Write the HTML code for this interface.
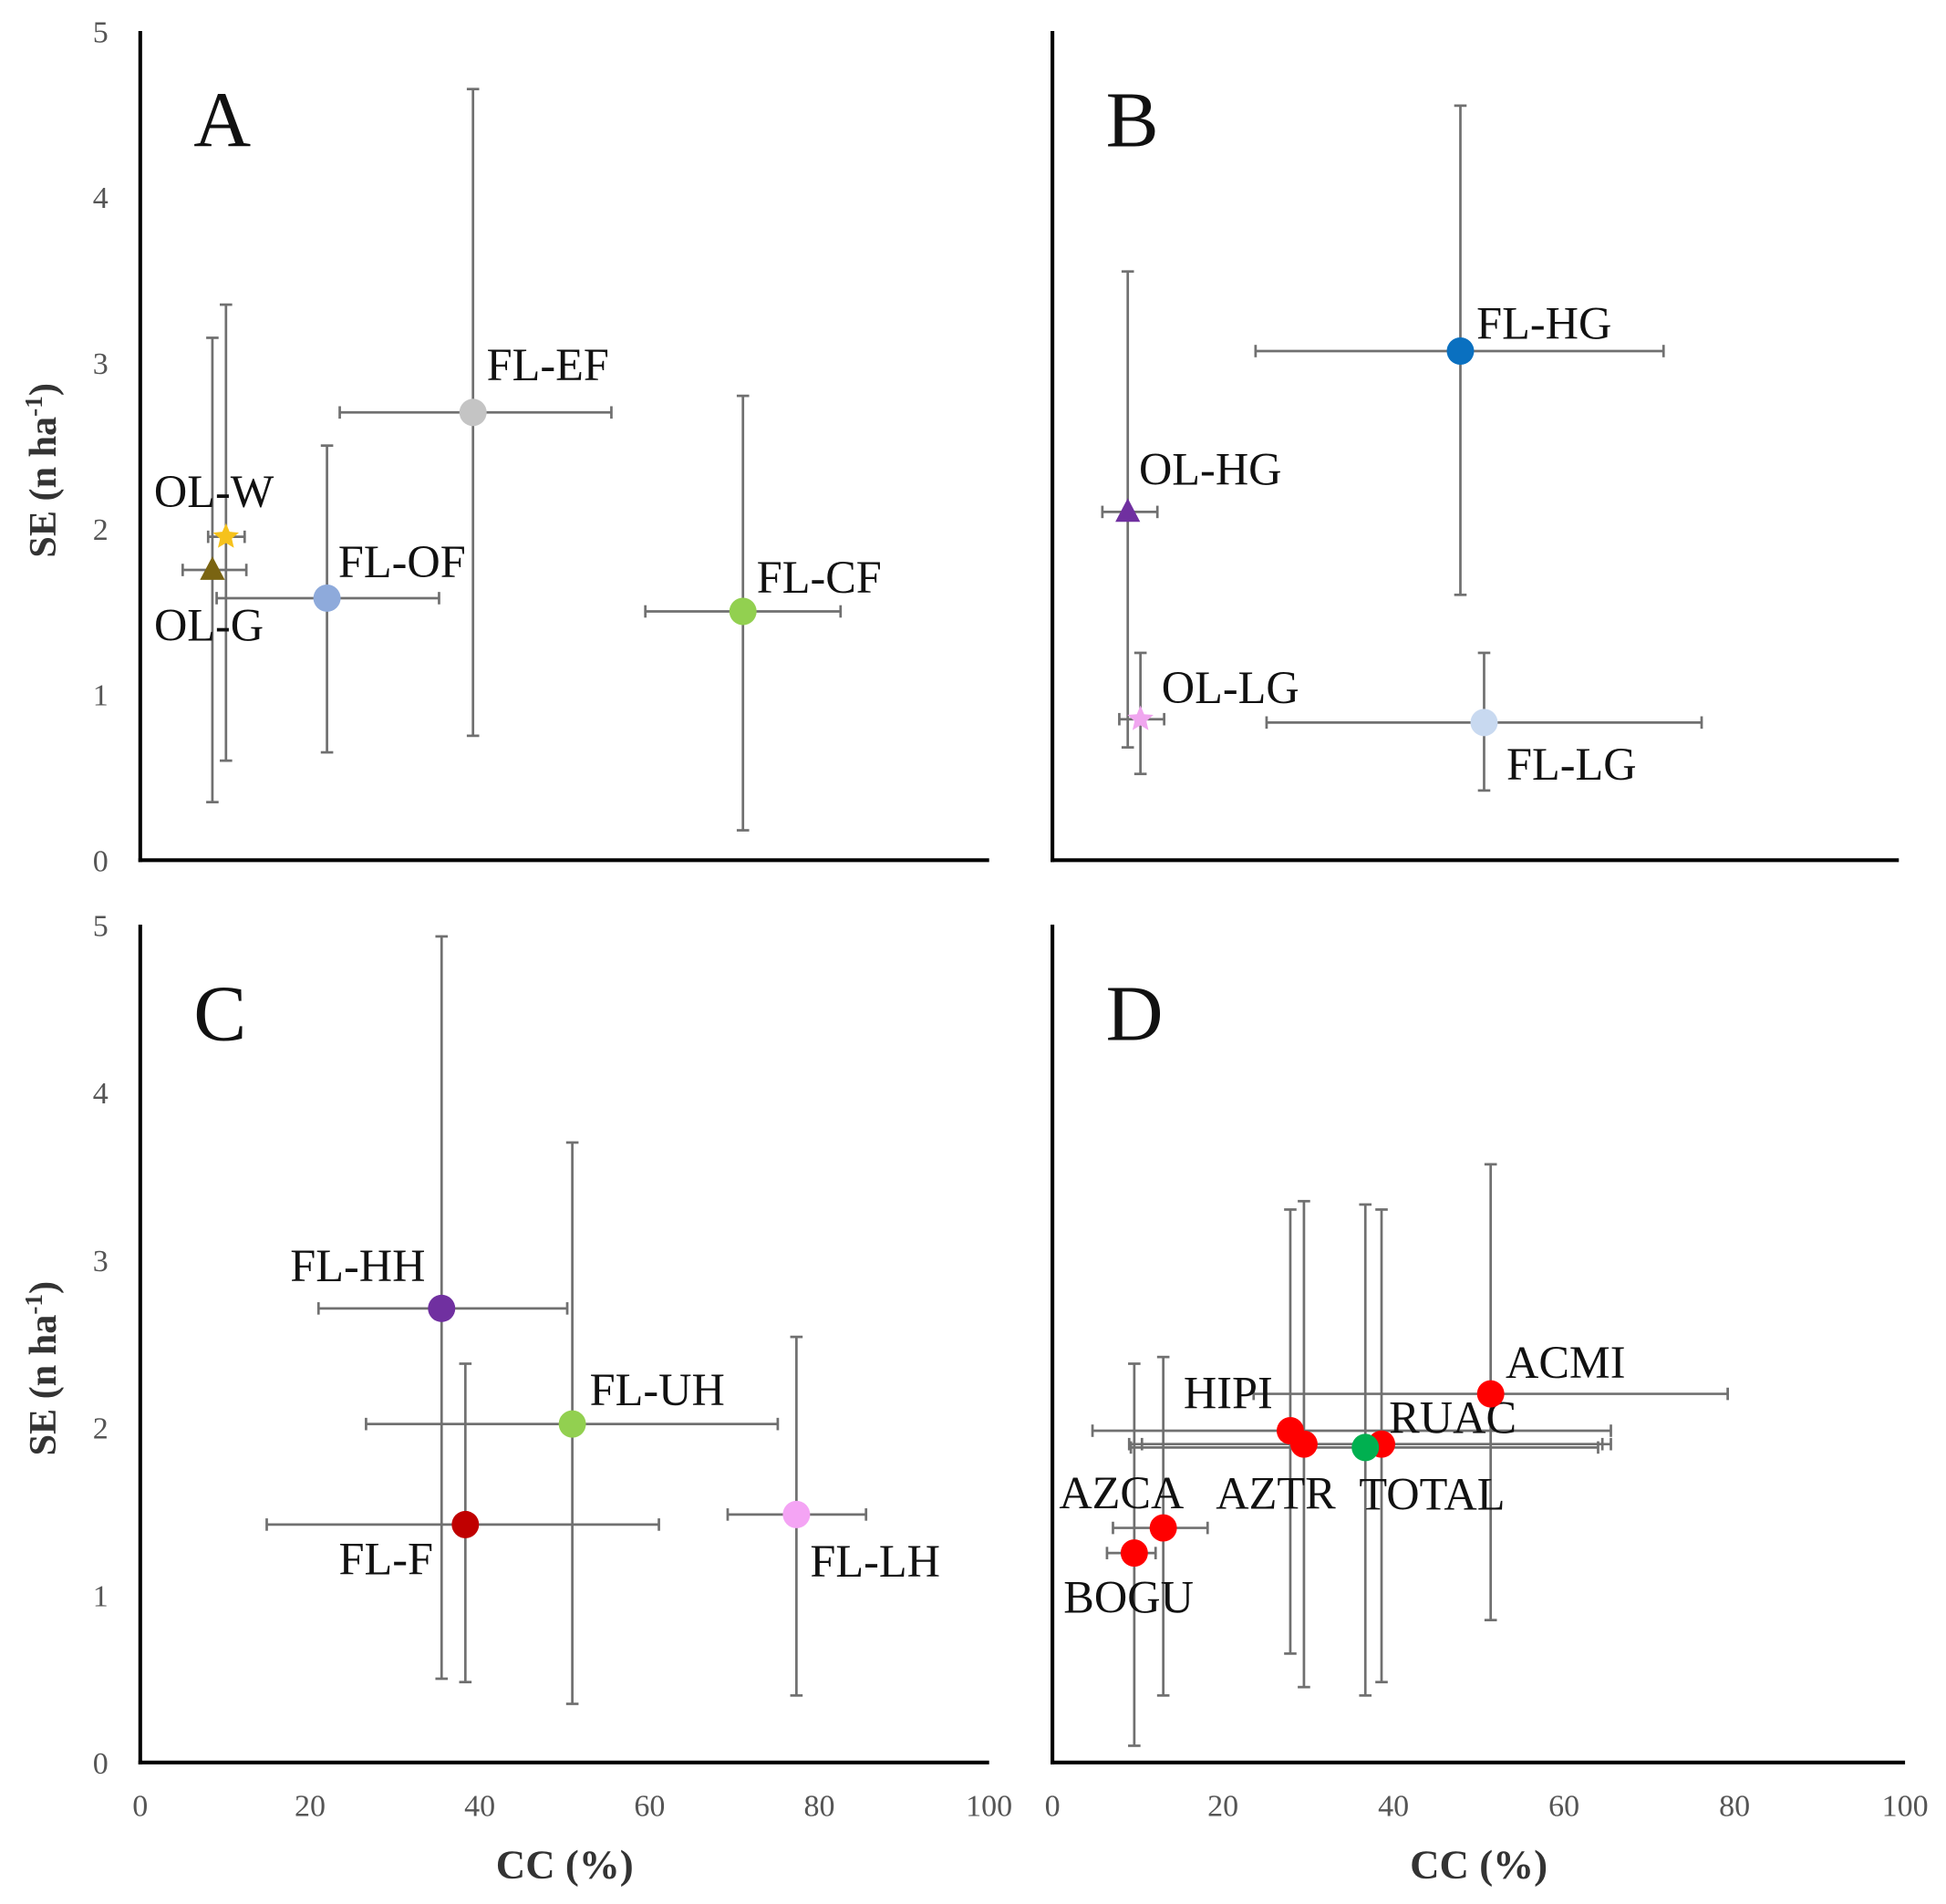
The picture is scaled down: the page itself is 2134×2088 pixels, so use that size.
<!DOCTYPE html>
<html><head><meta charset="utf-8">
<style>
html,body{margin:0;padding:0;background:#fff;}
svg{display:block;}
text{font-family:"Liberation Serif",serif;}
</style></head>
<body>
<svg id="chart" width="2134" height="2088" viewBox="0 0 1568 1534" preserveAspectRatio="none" xmlns="http://www.w3.org/2000/svg"></svg>
<script>
// Panel A data
const aNames=["OL-G","OL-W","FL-OF","FL-EF","FL-CF"];
const aX=[8.5,10.1,22,39.2,71];
const aY=[1.75,1.95,1.58,2.7,1.5];
const aXlo=[5,8,9,23.5,59.5];
const aXhi=[12.5,12.3,35.2,55.5,82.5];
const aYlo=[0.35,0.6,0.65,0.75,0.18];
const aYhi=[3.15,3.35,2.5,4.65,2.8];
// Panel B data
const bNames=["OL-HG","OL-LG","FL-HG","FL-LG"];
const bX=[8.9,10.4,48.2,51];
const bY=[2.1,0.85,3.07,0.83];
const bXlo=[5.9,7.9,24,25.3];
const bXhi=[12.4,13.2,72.2,76.7];
const bYlo=[0.68,0.52,1.6,0.42];
const bYhi=[3.55,1.25,4.55,1.25];
// Panel C data
const cNames=["FL-HH","FL-UH","FL-F","FL-LH"];
const cX=[35.5,50.9,38.3,77.3];
const cY=[2.71,2.02,1.42,1.48];
const cXlo=[21,26.6,14.9,69.2];
const cXhi=[50.3,75.1,61.1,85.5];
const cYlo=[0.5,0.35,0.48,0.4];
const cYhi=[4.93,3.7,2.38,2.54];
// Panel D data
const dNames=["BOGU","AZCA","HIPI","AZTR","RUAC","TOTAL","ACMI"];
const dX=[9.6,13,27.9,29.5,38.6,36.7,51.4];
const dY=[1.25,1.4,1.98,1.9,1.9,1.88,2.2];
const dXlo=[6.4,7.1,4.7,9,10.5,9.2,23.6];
const dXhi=[12.1,18.2,65.5,64.5,65.5,64,79.2];
const dYlo=[0.1,0.4,0.65,0.45,0.48,0.4,0.85];
const dYhi=[2.38,2.42,3.3,3.35,3.3,3.33,3.57];
const yTicks=["0","1","2","3","4","5"];
const xTicks=["0","20","40","60","80","100"];

const NS="http://www.w3.org/2000/svg";
const svg=document.getElementById('chart');
function mk(tag,attrs,parent,txt){const e=document.createElementNS(NS,tag);for(const k in attrs)e.setAttribute(k,attrs[k]);if(txt!==undefined)e.textContent=txt;(parent||svg).appendChild(e);return e;}

const panels=[
 {id:"a",letter:"A",x0:113,x1:797,yTop:25,yBot:693,names:aNames,X:aX,Y:aY,xl:aXlo,xh:aXhi,yl:aYlo,yh:aYhi,
  colors:["#7a6412","#f6c21c","#8eaadb","#c4c4c4","#92d050"],shapes:["tri","star","c","c","c"],
  lab:[[-47,57],[-58,-24],[9,-17],[11,-26],[11,-15]],yt:true,xt:false},
 {id:"b",letter:"B",x0:848,x1:1530,yTop:25,yBot:693,names:bNames,X:bX,Y:bY,xl:bXlo,xh:bXhi,yl:bYlo,yh:bYhi,
  colors:["#7030a0","#f0a6ef","#0a70c0","#c8d9f0"],shapes:["tri","star","c","c"],
  lab:[[9,-22],[17,-13],[13,-10],[18,46]],yt:false,xt:false},
 {id:"c",letter:"C",x0:113,x1:797,yTop:745,yBot:1420,names:cNames,X:cX,Y:cY,xl:cXlo,xh:cXhi,yl:cYlo,yh:cYhi,
  colors:["#7030a0","#92d050","#c00000","#f4a4f4"],shapes:["c","c","c","c"],
  lab:[[-122,-22],[14,-15],[-102,40],[11,50]],yt:true,xt:true},
 {id:"d",letter:"D",x0:848,x1:1535,yTop:745,yBot:1420,names:dNames,X:dX,Y:dY,xl:dXlo,xh:dXhi,yl:dYlo,yh:dYhi,
  colors:["#ff0000","#ff0000","#ff0000","#ff0000","#ff0000","#00b050","#ff0000"],shapes:["c","c","c","c","c","c","c"],
  lab:[[-57,48],[-84,-16],[-86,-18],[-71,52],[6,-9],[-5,50],[12,-13]],yt:false,xt:true}
];

panels.forEach(p=>{
  const g=mk('g',{});
  
  
  const sx=v=>p.x0+(p.x1-p.x0)*v/100;
  const sy=v=>p.yBot-(p.yBot-p.yTop)*v/5;
  const ya=mk('line',{x1:p.x0,y1:p.yTop,x2:p.x0,y2:p.yBot+1.5,stroke:'#000','stroke-width':3},g);
  
  
  const xa=mk('line',{x1:p.x0-1.5,y1:p.yBot,x2:p.x1,y2:p.yBot,stroke:'#000','stroke-width':3},g);
  
  
  const L=mk('text',{x:p.x0+43,y:p.yTop+93,'font-size':64,fill:'#111'},g,p.letter);
  
  
  if(p.yt){yTicks.forEach((t,i)=>{const e=mk('text',{x:p.x0-32,y:sy(+t)+9,'font-size':25,fill:'#555','text-anchor':'middle'},g,t);
    
    });
    const yt=mk('text',{x:0,y:0,'font-size':31,'font-weight':'bold',fill:'#333','text-anchor':'middle',transform:`translate(45,${(p.yTop+p.yBot)/2+20}) rotate(-90)`},g);
    
    
    yt.innerHTML='SE (n ha<tspan baseline-shift="super" font-size="20">-1</tspan>)';}
  if(p.xt){xTicks.forEach(t=>{const e=mk('text',{x:sx(+t),y:p.yBot+43,'font-size':25,fill:'#555','text-anchor':'middle'},g,t);
    
    });
    const xt=mk('text',{x:(p.x0+p.x1)/2,y:p.yBot+93,'font-size':33,'font-weight':'bold',fill:'#333','text-anchor':'middle'},g,'CC (%)');
    
    }
  p.names.forEach((n,i)=>{
    const cx=sx(p.X[i]),cy=sy(p.Y[i]);
    const eb=mk('g',{stroke:'#707070','stroke-width':2},g);
    
    
    const x1=sx(p.xl[i]),x2=sx(p.xh[i]),y1=sy(p.yl[i]),y2=sy(p.yh[i]);
    mk('line',{x1:x1,y1:cy,x2:x2,y2:cy},eb);
    mk('line',{x1:x1,y1:cy-5,x2:x1,y2:cy+5},eb);
    mk('line',{x1:x2,y1:cy-5,x2:x2,y2:cy+5},eb);
    mk('line',{x1:cx,y1:y1,x2:cx,y2:y2},eb);
    mk('line',{x1:cx-5,y1:y1,x2:cx+5,y2:y1},eb);
    mk('line',{x1:cx-5,y1:y2,x2:cx+5,y2:y2},eb);
  });
  p.names.forEach((n,i)=>{
    const cx=sx(p.X[i]),cy=sy(p.Y[i]);const c=p.colors[i];let m;
    if(p.shapes[i]==='c') m=mk('circle',{cx:cx,cy:cy,r:11,fill:c},g);
    else if(p.shapes[i]==='tri') m=mk('polygon',{points:`${cx},${cy-11} ${cx-10},${cy+8} ${cx+10},${cy+8}`,fill:c},g);
    else {let pts=[];for(let k=0;k<10;k++){const r=k%2?5:11;const a=-Math.PI/2+k*Math.PI/5;pts.push((cx+r*Math.cos(a)).toFixed(1)+','+(cy+r*Math.sin(a)).toFixed(1));}
      m=mk('polygon',{points:pts.join(' '),fill:c},g);}
    
    
    const t=mk('text',{x:cx+p.lab[i][0],y:cy+p.lab[i][1],'font-size':37,fill:'#111'},g,n);
    
    
  });
});
</script>
</body></html>
